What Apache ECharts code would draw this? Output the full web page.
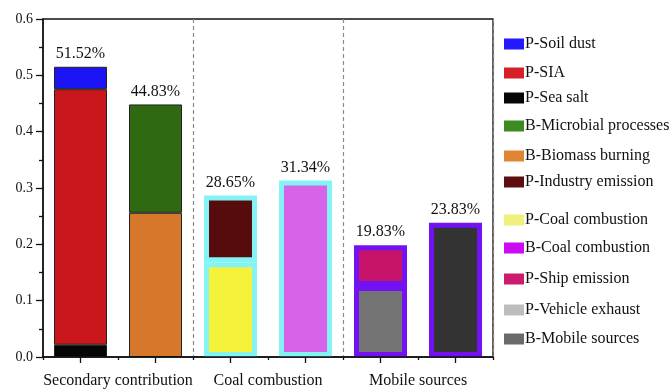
<!DOCTYPE html>
<html>
<head>
<meta charset="utf-8">
<script src="https://cdn.jsdelivr.net/npm/echarts@6/dist/echarts.min.js"></script>
<style>
  html, body { margin: 0; padding: 0; background: #fff; }
  #chart { width: 670px; height: 390px; }
</style>
</head>
<body>
<div id="chart"></div>
<script>
// Bar slots: two bars (P, B) per source group
const barSlots = ['SC-P', 'SC-B', 'CC-P', 'CC-B', 'MS-P', 'MS-B'];
const groupLabels = ['Secondary contribution', 'Coal combustion', 'Mobile sources'];
const yTicks = [0, 0.1, 0.2, 0.3, 0.4, 0.5, 0.6];

// Source contributions per bar slot ('-' = not part of that bar)
const pSoilDust   = [0.0398, '-', '-', '-', '-', '-'];
const pSIA        = [0.4537, '-', '-', '-', '-', '-'];
const pSeaSalt    = [0.0217, '-', '-', '-', '-', '-'];
const bMicrobial  = ['-', 0.1923, '-', '-', '-', '-'];
const bBiomass    = ['-', 0.2560, '-', '-', '-', '-'];
const pIndustry   = ['-', '-', 0.1185, '-', '-', '-'];
const pCoal       = ['-', '-', 0.1680, '-', '-', '-'];
const bCoal       = ['-', '-', '-', 0.3134, '-', '-'];
const pShip       = ['-', '-', '-', '-', 0.0723, '-'];
const pVehicle    = ['-', '-', '-', '-', 0.1260, '-'];
const bMobile     = ['-', '-', '-', '-', '-', 0.2383];

const FONT = "'Liberation Serif', 'Times New Roman', serif";
const INK = '#111';
const CYAN = '#84f3f5';
const VIOLET = '#7212f2';

// Series listed bottom-to-top within each stack
const seriesDefs = [
  { name: 'P-Sea salt',            data: pSeaSalt,   color: '#060606', legend: '#060606', border: '#222', bw: 1 },
  { name: 'P-SIA',                 data: pSIA,       color: '#c9171c', legend: '#d42026', border: '#222', bw: 1 },
  { name: 'P-Soil dust',           data: pSoilDust,  color: '#1d14f5', legend: '#2418ff', border: '#222', bw: 1, top: true },
  { name: 'B-Biomass burning',     data: bBiomass,   color: '#d6782c', legend: '#e08432', border: '#222', bw: 1 },
  { name: 'B-Microbial processes', data: bMicrobial, color: '#2f6a12', legend: '#3b8a22', border: '#222', bw: 1, top: true },
  { name: 'P-Coal combustion',     data: pCoal,      color: '#f4f23a', legend: '#f1f07c', border: CYAN, bw: 5 },
  { name: 'P-Industry emission',   data: pIndustry,  color: '#560b0c', legend: '#5c0e10', border: CYAN, bw: 5, top: true },
  { name: 'B-Coal combustion',     data: bCoal,      color: '#d663e8', legend: '#cc0af4', border: CYAN, bw: 5, top: true },
  { name: 'P-Vehicle exhaust',     data: pVehicle,   color: '#747474', legend: '#bdbdbd', border: VIOLET, bw: 5 },
  { name: 'P-Ship emission',       data: pShip,      color: '#c8136a', legend: '#cc1a6c', border: VIOLET, bw: 5, top: true },
  { name: 'B-Mobile sources',      data: bMobile,    color: '#333333', legend: '#6a6a6a', border: VIOLET, bw: 5, top: true }
];

const legendOrder = [
  'P-Soil dust', 'P-SIA', 'P-Sea salt', 'B-Microbial processes', 'B-Biomass burning',
  'P-Industry emission', 'P-Coal combustion', 'B-Coal combustion', 'P-Ship emission',
  'P-Vehicle exhaust', 'B-Mobile sources'
];
const legendCenters = [42, 71, 96, 124, 154, 180, 218, 246, 277, 308, 337];

function totalAt(i) {
  let s = 0;
  seriesDefs.forEach(d => { const v = d.data[i]; if (typeof v === 'number') s += v; });
  return s;
}

const series = seriesDefs.map(d => ({
  name: d.name,
  type: 'bar',
  stack: 'all',
  xAxisIndex: 0,
  barWidth: 53,
  data: d.data,
  itemStyle: { color: d.color, borderColor: d.border, borderWidth: d.bw },
  emphasis: { disabled: true },
  label: d.top ? {
    show: true,
    position: 'top',
    distance: 5,
    fontFamily: FONT,
    fontSize: 16,
    color: INK,
    formatter: p => (totalAt(p.dataIndex) * 100).toFixed(2) + '%'
  } : { show: false }
}));

const legends = legendOrder.map((name, k) => {
  const def = seriesDefs.find(d => d.name === name);
  return {
    left: 504,
    top: legendCenters[k] - 6,
    padding: 0,
    orient: 'vertical',
    itemWidth: 20,
    itemHeight: 11,
    itemGap: 0,
    selectedMode: false,
    icon: 'rect',
    itemStyle: { borderWidth: 0 },
    textStyle: { fontFamily: FONT, fontSize: 16, color: INK, padding: [0, 0, 0, -4] },
    data: [{ name: name, itemStyle: { color: def.legend, borderWidth: 0 } }]
  };
});

const chart = echarts.init(document.getElementById('chart'), null, { renderer: 'canvas' });
chart.setOption({
  animation: false,
  backgroundColor: '#fff',
  grid: {
    left: 43, right: 177, top: 19, bottom: 33,
    show: true, borderColor: INK, borderWidth: 1.3, backgroundColor: 'transparent'
  },
  legend: legends,
  xAxis: [
    {
      // bar axis: major ticks at bar centres, drawn over the bar borders
      type: 'category', data: barSlots, position: 'bottom', z: 5,
      axisLine: { show: true, lineStyle: { color: INK, width: 1.5 } },
      axisTick: { show: true, alignWithLabel: true, length: 6, lineStyle: { color: INK, width: 1.3 } },
      axisLabel: { show: false },
      splitLine: { show: false }
    },
    {
      // short ticks on slot boundaries
      type: 'category', data: barSlots, position: 'bottom', z: 5,
      axisLine: { show: false },
      axisTick: { show: true, alignWithLabel: false, length: 3, lineStyle: { color: INK, width: 1.3 } },
      axisLabel: { show: false },
      splitLine: { show: false }
    },
    {
      // group names and dashed separators
      type: 'category', data: groupLabels, position: 'bottom',
      axisLine: { show: false },
      axisTick: { show: false },
      axisLabel: { show: true, interval: 0, hideOverlap: false, fontFamily: FONT, fontSize: 16, color: INK, margin: 16 },
      splitLine: {
        show: true,
        interval: (i) => i > 0,
        lineStyle: { color: '#8a8a8a', width: 1.2, type: [4, 3] }
      }
    }
  ],
  yAxis: {
    type: 'value', min: yTicks[0], max: yTicks[yTicks.length - 1], interval: 0.1, z: 5,
    axisLine: { show: true, lineStyle: { color: INK, width: 1.5 } },
    axisTick: { show: true, length: 7, lineStyle: { color: INK, width: 1.3 } },
    minorTick: { show: true, splitNumber: 2, length: 4, lineStyle: { color: INK, width: 1.3 } },
    splitLine: { show: false },
    axisLabel: { fontFamily: FONT, fontSize: 14, color: INK, margin: 10, formatter: v => v.toFixed(1) }
  },
  series: series
});
</script>
</body>
</html>
